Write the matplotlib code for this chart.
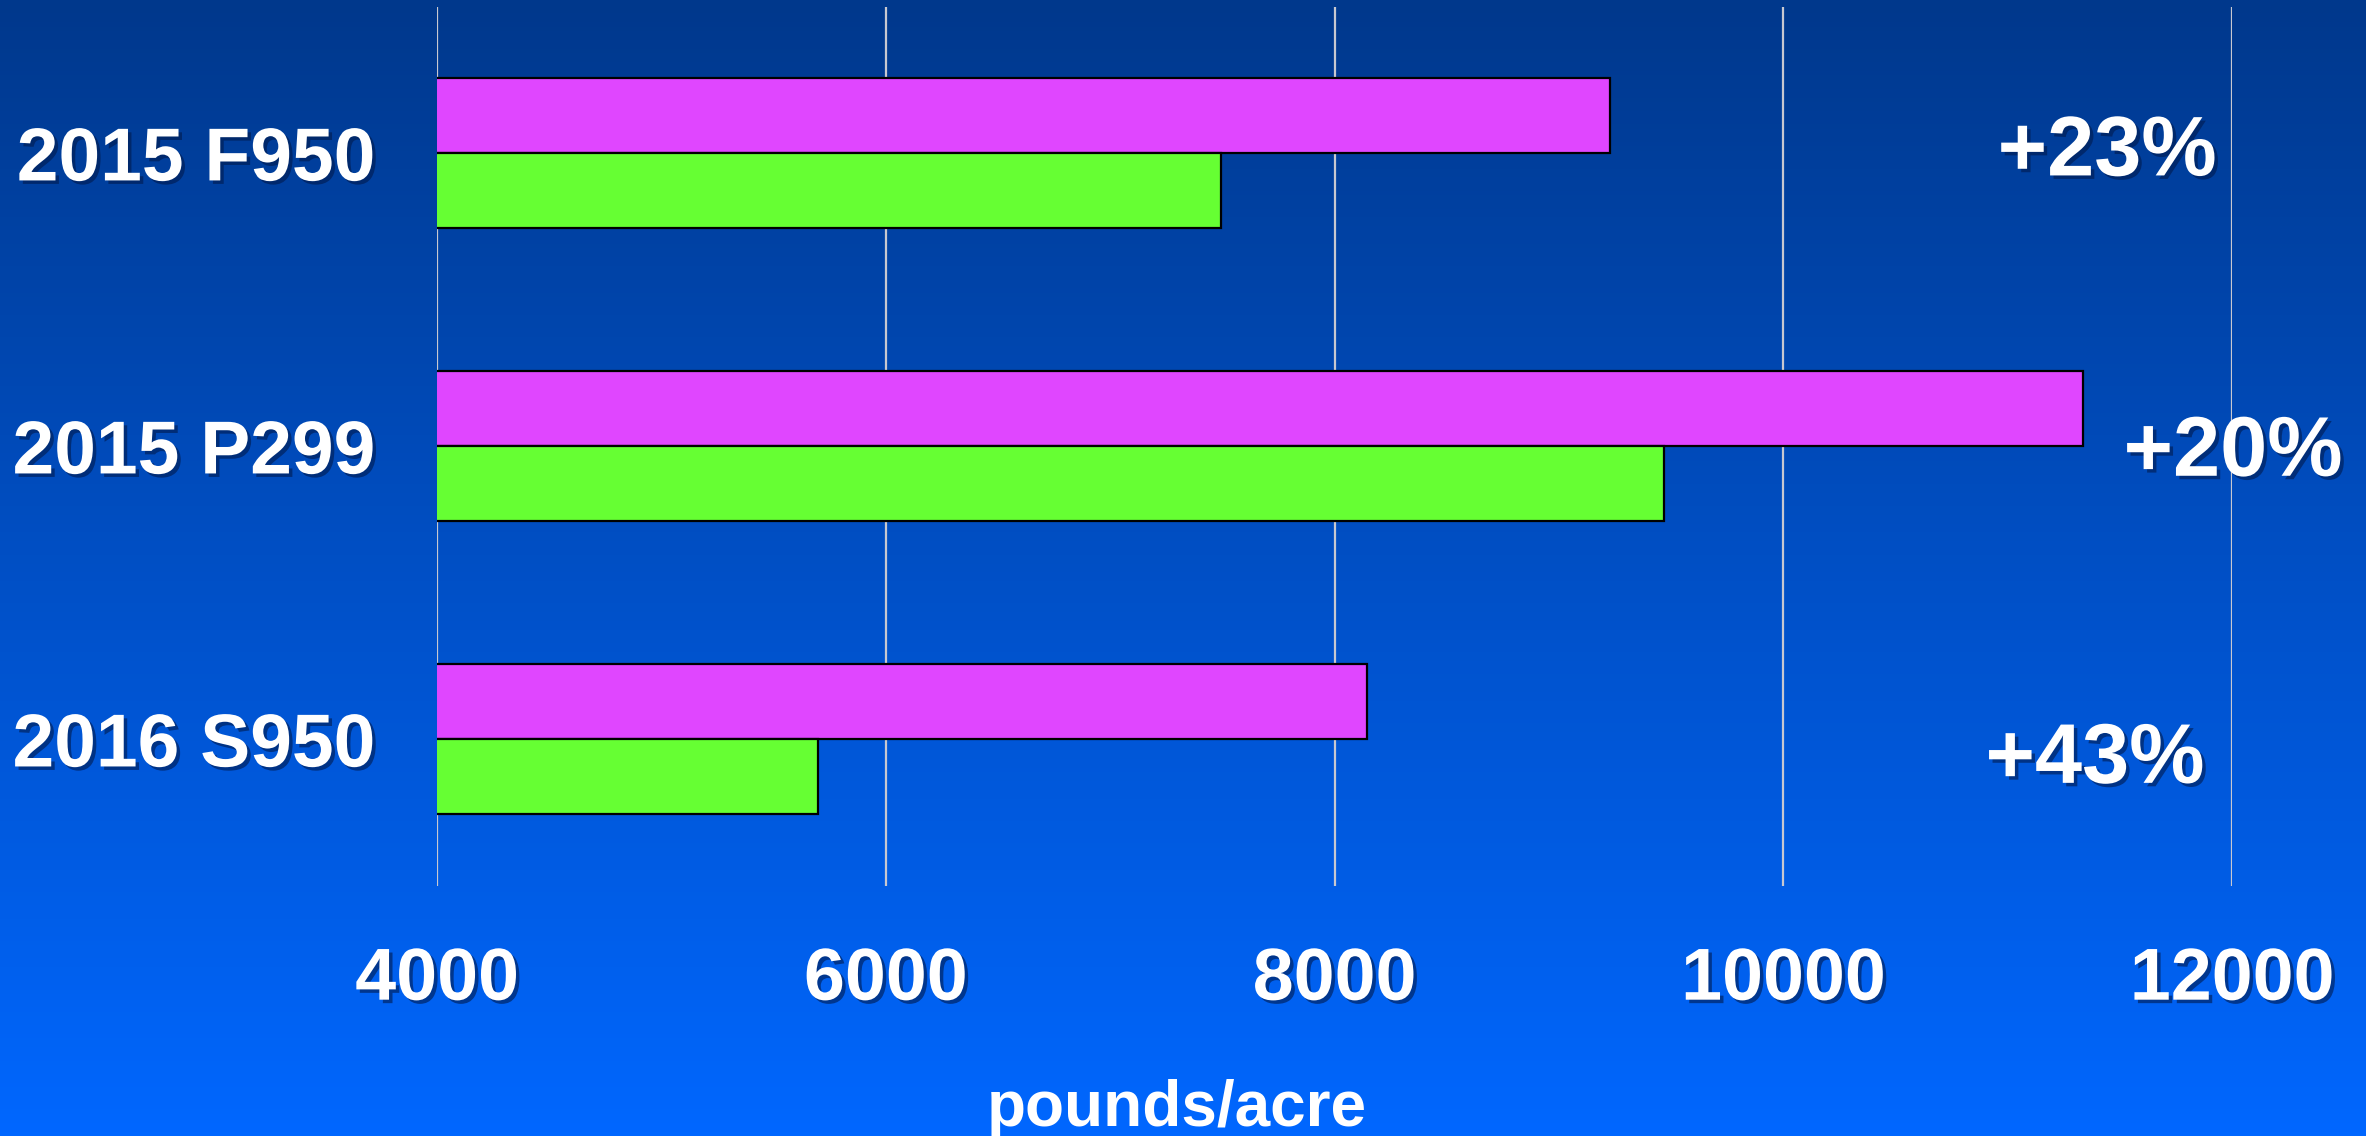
import matplotlib
matplotlib.use("Agg")
import matplotlib.pyplot as plt
import matplotlib.patheffects as pe
import numpy as np

plt.rcParams["font.family"] = ["Liberation Sans", "DejaVu Sans"]
plt.rcParams["font.weight"] = "bold"

# data (pounds/acre)
categories = ["2015 F950", "2015 P299", "2016 S950"]
treated = [9228, 11334, 8145]    # magenta bars
control = [7492, 9470, 5696]     # green bars
gains = ["+23%", "+20%", "+43%"]
xticks = [4000, 6000, 8000, 10000, 12000]

fig = plt.figure(figsize=(23.66, 11.36), dpi=100)

# vertical gradient background
bg = fig.add_axes([0, 0, 1, 1], zorder=-10)
top = np.array([0, 56, 140]) / 255
bot = np.array([0, 103, 255]) / 255
t = np.linspace(0, 1, 256)[:, None]
grad = top[None, :] * (1 - t) + bot[None, :] * t
bg.imshow(grad[:, None, :].repeat(2, axis=1), aspect="auto", extent=[0, 1, 0, 1])
bg.set_axis_off()

ax = fig.add_axes([0.1847, 0.2201, 0.7587, 0.7738])
ax.patch.set_alpha(0)

shadow = [pe.SimplePatchShadow(offset=(2.5, -2.5), shadow_rgbFace="#001a4d", alpha=0.6), pe.Normal()]

pos = np.arange(len(categories)) + 0.5
h = 0.256
ax.barh(pos - h / 2, treated, height=h, color="#E046FF", edgecolor="black", linewidth=1.6, zorder=3)
ax.barh(pos + h / 2, control, height=h, color="#66FF33", edgecolor="black", linewidth=1.6, zorder=3)

ax.set_xlim(4000, 12000)
ax.set_ylim(3, 0)
ax.set_xticks(xticks)
ax.set_xticklabels([str(v) for v in xticks], fontsize=53, fontweight="bold", color="white")
for lbl in ax.get_xticklabels():
    lbl.set_path_effects(shadow)
ax.tick_params(axis="x", length=0, pad=43)
ax.set_yticks(pos)
ax.set_yticklabels(categories, fontsize=54, fontweight="bold", color="white")
for lbl in ax.get_yticklabels():
    lbl.set_path_effects(shadow)
ax.tick_params(axis="y", length=0, pad=44)

ax.grid(axis="x", color="#C8C8D0", linewidth=1.6, zorder=1)
for s in ax.spines.values():
    s.set_visible(False)

# percentage gains to the right of each group
gain_x = [11443, 12004, 11389]
gain_dy = [0.0, 0.025, 0.073]
for p, g, gx, dy in zip(pos, gains, gain_x, gain_dy):
    ax.text(gx, p + dy, g, fontsize=61, fontweight="bold", color="white",
            ha="center", va="center", path_effects=shadow, zorder=5, clip_on=False)

fig.text(0.4975, 0.024, "pounds/acre", fontsize=46, fontweight="bold", color="white",
         ha="center", va="center")

fig.savefig("out.png", dpi=100)
